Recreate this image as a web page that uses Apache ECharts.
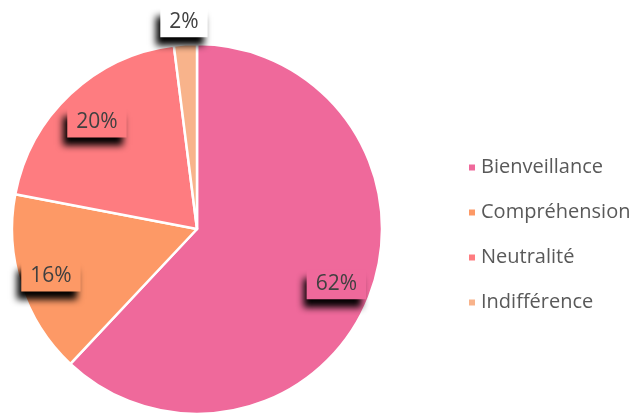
<!DOCTYPE html>
<html lang="fr">
<head>
    <meta charset="utf-8">
    <title>Pie</title>
    <style>
        html, body { margin: 0; padding: 0; background: #fff; }
        #main { width: 633px; height: 416px; }
    </style>
</head>
<body>
    <div id="main"></div>
    <script src="https://cdn.jsdelivr.net/npm/echarts@6/dist/echarts.min.js"></script>
    <script>
        // données
        var categories = ['Bienveillance', 'Compréhension', 'Neutralité', 'Indifférence'];
        var values = [62, 16, 20, 2];
        var colors = ['#EF699B', '#FD9966', '#FE7C80', '#F8B38B'];
        // distance du label en fraction du rayon
        var labelDist = [0.81, 0.83, 0.79, 1.12];

        var cx = 197, cy = 229, R = 185;

        var total = values.reduce(function (a, b) { return a + b; }, 0);
        var midAngles = [];
        var acc = 0;
        for (var i = 0; i < values.length; i++) {
            midAngles.push((acc + values[i] / 2) / total * 2 * Math.PI);
            acc += values[i];
        }

        var data = categories.map(function (name, i) {
            return {
                name: name,
                value: values[i],
                itemStyle: { color: colors[i] },
                label: { backgroundColor: i === 3 ? '#fff' : colors[i] }
            };
        });

        var chart = echarts.init(document.getElementById('main'));
        chart.setOption({
            animation: false,
            legend: {
                orient: 'vertical',
                left: 462,
                top: 152,
                itemWidth: 8,
                itemHeight: 8,
                itemGap: 24,
                icon: 'rect',
                textStyle: { fontFamily: 'Open Sans', fontSize: 20, color: '#595959', lineHeight: 21 },
                data: categories
            },
            series: [{
                type: 'pie',
                center: [cx, cy],
                radius: [0, R],
                startAngle: 90,
                clockwise: true,
                itemStyle: { borderColor: '#fff', borderWidth: 2.5 },
                label: {
                    show: true,
                    position: 'inside',
                    formatter: '{c}%',
                    fontFamily: 'Open Sans',
                    fontSize: 21,
                    color: '#404040',
                    padding: [5, 9, 4, 9],
                    shadowColor: 'rgba(0,0,0,1)',
                    shadowBlur: 7,
                    shadowOffsetX: -4,
                    shadowOffsetY: 9
                },
                labelLine: { show: false },
                labelLayout: function (p) {
                    var i = p.dataIndex;
                    var a = midAngles[i];
                    var d = R * labelDist[i];
                    return {
                        x: cx + Math.sin(a) * d,
                        y: cy - Math.cos(a) * d,
                        align: 'center',
                        verticalAlign: 'middle'
                    };
                },
                data: data
            }]
        });
    </script>
</body>
</html>
